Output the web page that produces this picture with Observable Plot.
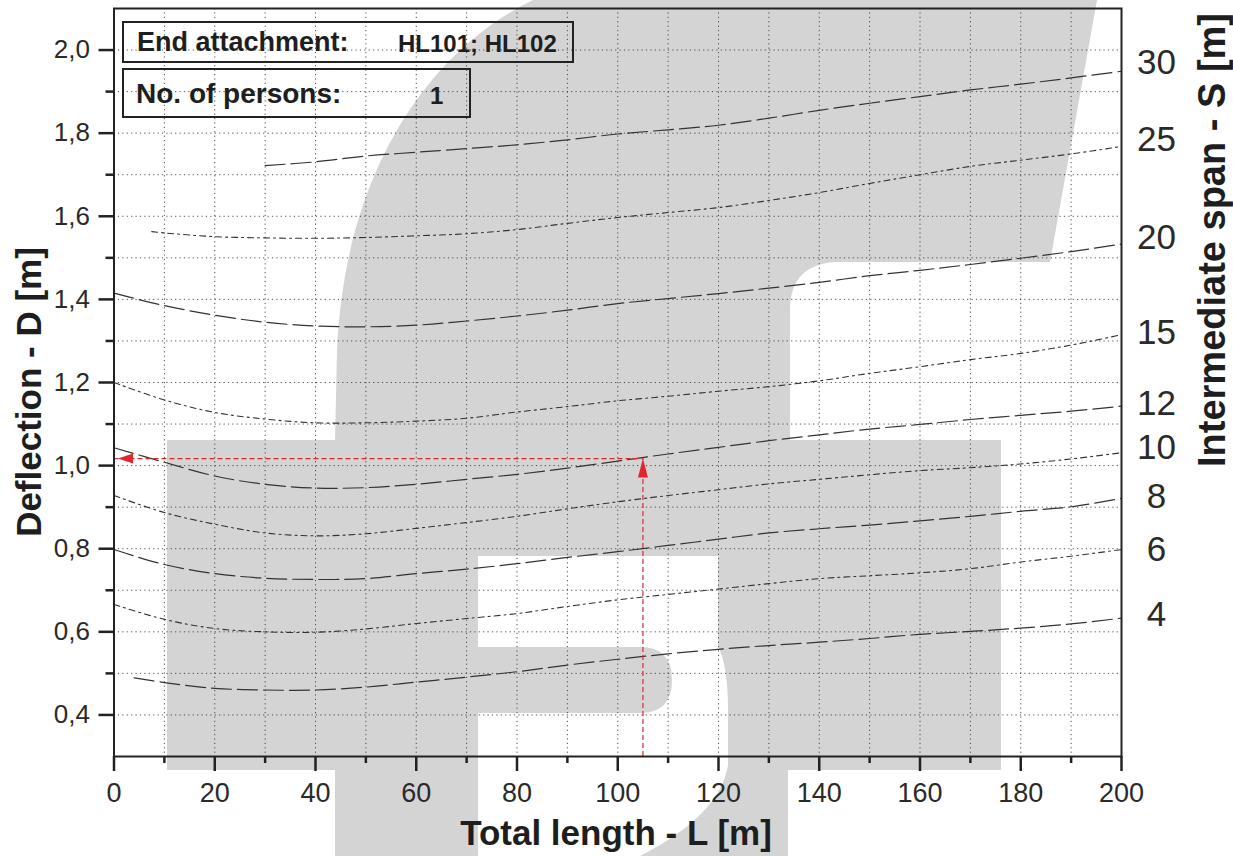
<!DOCTYPE html>
<html>
<head>
<meta charset="utf-8">
<script src="https://cdn.jsdelivr.net/npm/d3@7"></script>
<script src="https://cdn.jsdelivr.net/npm/@observablehq/plot@0.6"></script>
<style>
html, body { margin: 0; padding: 0; background: #fff; }
#wrap { position: relative; width: 1233px; height: 856px; overflow: hidden;
  font-family: "Liberation Sans", Arial, sans-serif; color: #1e1e1e; }
#wm { position: absolute; left: 0; top: 0; }
#chart { position: absolute; left: 0; top: 0; }
.box { position: absolute; border: 2px solid #222; background: transparent; box-sizing: border-box; font-weight: bold; color: #1e1e1e; }
.box span { position: absolute; white-space: nowrap; line-height: 1; }
.title { position: absolute; font-weight: bold; white-space: nowrap; line-height: 1; color: #1e1e1e; }
</style>
</head>
<body>
<div id="wrap">
  <!-- decorative watermark of the source document (not data) -->
  <svg id="wm" width="1233" height="856">
    <g fill="#d4d4d4">
      <path d="M533,0 L1097,0 L1050,262 L835,262 Q790,265 790,310 L790,440 L335,440 L337,350 C345,170 430,50 533,0 Z"/>
      <path d="M167,440 H1001 V770 H788 V856 H335 V770 H167 Z"/>
    </g>
    <path fill="#ffffff" d="M478,556 H718 V647 Q728,665 728,710 V765 Q720,815 640,856 H478 Z"/>
    <path fill="#d4d4d4" d="M478,647 H640 Q672,647 672,680 Q672,713 640,713 H478 Z"/>
  </svg>
  <div id="chart"></div>
  <div class="box" style="left:122px;top:21px;width:452px;height:42px">
    <span style="left:13px;top:6px;font-size:27px">End attachment:</span>
    <span style="left:274px;top:9px;font-size:24px">HL101; HL102</span>
  </div>
  <div class="box" style="left:122px;top:68px;width:349px;height:50px">
    <span style="left:12px;top:10px;font-size:28px">No. of persons:</span>
    <span style="left:306px;top:14px;font-size:24px">1</span>
  </div>
  <div class="title" style="left:28px;top:392px;font-size:35px;transform:translate(-50%,-50%) rotate(-90deg)">Deflection - D [m]</div>
  <div class="title" style="left:1212px;top:240px;font-size:38px;transform:translate(-50%,-50%) rotate(-90deg)">Intermediate span - S [m]</div>
  <div class="title" style="left:616px;top:832px;font-size:35px;transform:translate(-50%,-50%)">Total length - L [m]</div>
</div>
<script>
// ---- data ----
const lengths = [0,10,20,30,40,50,60,70,80,90,100,110,120,130,140,150,160,170,180,190,200];
const lengthsS30 = [30,40,50,60,70,80,90,100,110,120,130,140,150,160,170,180,190,200];
const lengthsS25 = [7.5,10,20,30,40,50,60,70,80,90,100,110,120,130,140,150,160,170,180,190,200];
const lengthsS4  = [4,10,20,30,40,50,60,70,80,90,100,110,120,130,140,150,160,170,180,190,200];

const deflS30 = [1.722,1.731,1.745,1.754,1.763,1.772,1.784,1.798,1.808,1.819,1.836,1.855,1.872,1.888,1.904,1.918,1.933,1.949];
const deflS25 = [1.563,1.560,1.551,1.548,1.547,1.549,1.553,1.558,1.568,1.583,1.597,1.609,1.621,1.638,1.657,1.679,1.700,1.720,1.735,1.750,1.768];
const deflS20 = [1.415,1.385,1.362,1.345,1.336,1.334,1.338,1.348,1.360,1.374,1.390,1.402,1.414,1.427,1.441,1.457,1.470,1.484,1.499,1.515,1.533];
const deflS15 = [1.200,1.158,1.128,1.112,1.103,1.103,1.107,1.114,1.129,1.142,1.156,1.167,1.179,1.190,1.204,1.222,1.238,1.255,1.270,1.290,1.315];
const deflS12 = [1.043,1.008,0.975,0.955,0.946,0.947,0.955,0.967,0.979,0.994,1.011,1.028,1.044,1.060,1.074,1.088,1.099,1.111,1.121,1.131,1.143];
const deflS10 = [0.928,0.887,0.859,0.838,0.831,0.836,0.849,0.863,0.878,0.896,0.913,0.928,0.942,0.956,0.967,0.978,0.988,0.995,1.004,1.016,1.031];
const deflS8  = [0.798,0.762,0.740,0.729,0.726,0.728,0.740,0.751,0.764,0.779,0.793,0.808,0.823,0.838,0.848,0.857,0.867,0.878,0.890,0.901,0.921];
const deflS6  = [0.666,0.630,0.608,0.600,0.599,0.607,0.620,0.632,0.644,0.661,0.677,0.690,0.703,0.716,0.728,0.735,0.742,0.752,0.768,0.782,0.798];
const deflS4  = [0.489,0.478,0.464,0.460,0.460,0.467,0.479,0.491,0.504,0.520,0.534,0.547,0.558,0.567,0.575,0.584,0.594,0.601,0.609,0.619,0.633];

// right-hand span labels and the deflection level at which each is printed
const spanLabels = ["30","25","20","15","12","10","8","6","4"];
const spanLabelD = [1.969,1.783,1.549,1.320,1.148,1.042,0.926,0.798,0.641];

// axis ticks
const xMajorTicks = [0,20,40,60,80,100,120,140,160,180,200];
const xMinorTicks = [10,30,50,70,90,110,130,150,170,190];
const yMajorTicks = [0.4,0.6,0.8,1.0,1.2,1.4,1.6,1.8,2.0];
const yMinorTicks = [0.5,0.7,0.9,1.1,1.3,1.5,1.7,1.9];
const xGrid = [10,20,30,40,50,60,70,80,90,100,110,120,130,140,150,160,170,180,190];
const yGrid = [0.4,0.5,0.6,0.7,0.8,0.9,1.0,1.1,1.2,1.3,1.4,1.5,1.6,1.7,1.8,1.9,2.0];

// worked example (red): L = 105 m  ->  D ≈ 1.017 m
const exampleL = [105];
const exampleD = [1.017];

// ---- build table ----
const series = [
  {span: 30, style: "long",  L: lengthsS30, D: deflS30},
  {span: 25, style: "short", L: lengthsS25, D: deflS25},
  {span: 20, style: "long",  L: lengths,    D: deflS20},
  {span: 15, style: "short", L: lengths,    D: deflS15},
  {span: 12, style: "long",  L: lengths,    D: deflS12},
  {span: 10, style: "short", L: lengths,    D: deflS10},
  {span: 8,  style: "long",  L: lengths,    D: deflS8},
  {span: 6,  style: "short", L: lengths,    D: deflS6},
  {span: 4,  style: "long",  L: lengthsS4,  D: deflS4}
];
const rows = series.flatMap(s => s.L.map((l, i) => ({span: s.span, style: s.style, L: l, D: s.D[i]})));
const labelRows = spanLabels.map((s, i) => ({label: s, D: spanLabelD[i]}));
const example = exampleL.map((l, i) => ({L: l, D: exampleD[i]}));

const red = "#e3262b";
const upArrow = {draw(ctx) { ctx.moveTo(0, 0); ctx.lineTo(5, 19); ctx.lineTo(-5, 19); ctx.closePath(); }};
const leftArrow = {draw(ctx) { ctx.moveTo(0, 0); ctx.lineTo(15, -5); ctx.lineTo(15, 5); ctx.closePath(); }};
const comma = d => d.toFixed(1).replace(".", ",");

const plot = Plot.plot({
  width: 1233,
  height: 856,
  marginLeft: 113.5,
  marginRight: 112,
  marginTop: 8,
  marginBottom: 100,
  style: {background: "transparent", color: "#222", fontFamily: "'Liberation Sans', Arial, sans-serif"},
  x: {domain: [0, 200], axis: null},
  y: {domain: [0.3, 2.1], axis: null},
  marks: [
    Plot.gridX(xGrid, {stroke: "#333", strokeOpacity: 0.85, strokeDasharray: "1.2,3.2"}),
    Plot.gridY(yGrid, {stroke: "#333", strokeOpacity: 0.85, strokeDasharray: "1.2,3.2"}),
    Plot.line(rows.filter(r => r.style === "long"), {
      x: "L", y: "D", z: "span", curve: "catmull-rom",
      stroke: "#333", strokeWidth: 1.2, strokeDasharray: "20,6"
    }),
    Plot.line(rows.filter(r => r.style === "short"), {
      x: "L", y: "D", z: "span", curve: "catmull-rom",
      stroke: "#333", strokeWidth: 1.1, strokeDasharray: "6,4,2,4"
    }),
    // worked example
    Plot.ruleY(example, {x1: 0, x2: "L", y: "D", stroke: red, strokeWidth: 1.2, strokeDasharray: "5,3"}),
    Plot.ruleX(example, {x: "L", y1: 0.3, y2: "D", stroke: red, strokeWidth: 1.2, strokeDasharray: "5,3"}),
    Plot.dot(example, {x: "L", y: "D", symbol: upArrow, fill: red, stroke: "none"}),
    Plot.dot(example, {x: () => 0, y: "D", dx: 4, symbol: leftArrow, fill: red, stroke: "none"}),
    Plot.frame({stroke: "#222", strokeWidth: 2}),
    // axes
    Plot.axisY(yMajorTicks, {anchor: "left", tickSize: 15, tickPadding: 9, fontSize: 26, strokeWidth: 2.5,
      tickFormat: comma, label: null, fill: "#2a2a2a"}),
    Plot.axisY(yMinorTicks, {anchor: "left", tickSize: 8, strokeWidth: 2.5, tickFormat: () => "", label: null}),
    Plot.axisX(xMajorTicks, {anchor: "bottom", tickSize: 15, tickPadding: 11, fontSize: 27, strokeWidth: 2.5,
      tickFormat: d => String(d), label: null, fill: "#2a2a2a"}),
    Plot.axisX(xMinorTicks, {anchor: "bottom", tickSize: 7, strokeWidth: 2.5, tickFormat: () => "", label: null}),
    // right-hand span labels
    Plot.text(labelRows, {x: () => 200, y: "D", text: "label", dx: 35, fontSize: 35, textAnchor: "middle", fill: "#2a2a2a"})
  ]
});
document.getElementById("chart").appendChild(plot);
</script>
</body>
</html>
